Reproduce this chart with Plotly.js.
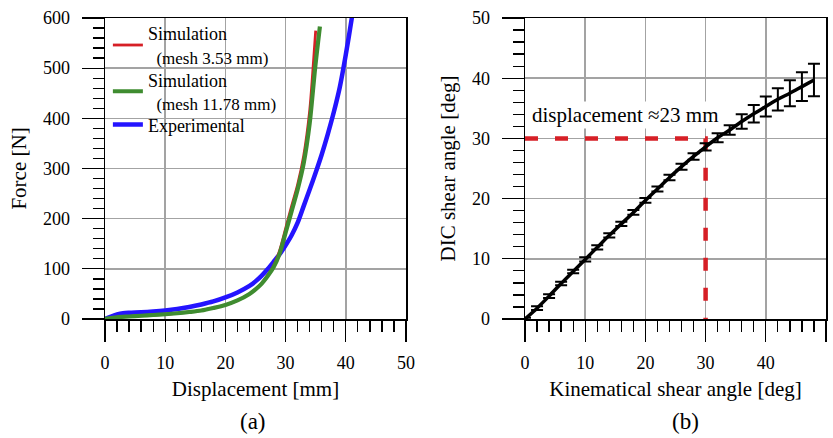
<!DOCTYPE html>
<html>
<head>
<meta charset="utf-8">
<script src="https://cdn.plot.ly/plotly-3.0.1.min.js"></script>
<style>html,body{margin:0;padding:0;background:#fff;}#chart{width:833px;height:438px;}</style>
</head>
<body>
<div id="chart"></div>
<script>
// ---- Panel (a): Force vs displacement ----
const simFineDisp   = [0, 2, 4, 6, 8, 10, 12, 14, 16, 18, 20, 22, 24, 25, 26, 27, 28, 29, 30, 31, 32, 33, 34, 34.5, 35.0];
const simFineForce  = [0, 3.5, 5, 6.5, 8, 9.5, 11.5, 14, 17, 22, 28, 37, 50, 59, 71, 87, 106, 136, 180, 225, 268, 325, 415, 490, 575];
const simCoarseDisp  = [0, 2, 4, 6, 8, 10, 12, 14, 16, 18, 20, 22, 24, 25, 26, 27, 28, 29, 30, 31, 32, 33, 34, 34.9, 35.7];
const simCoarseForce = [0, 3.5, 5, 6.5, 8, 9.5, 11.5, 14, 17, 22, 28, 37, 50, 59, 70, 85, 103, 130, 172, 215, 258, 310, 390, 500, 583];
const expDisp  = [0, 1, 2, 3, 4, 6, 8, 10, 12, 14, 16, 18, 20, 22, 24, 25, 26, 27, 28, 29, 30, 31, 32, 33, 34, 35, 36, 37, 38, 39, 40, 41, 41.3];
const expForce = [0, 5, 9, 11.5, 12.5, 13.5, 15, 17, 20, 24, 29, 35, 43, 53, 66, 75, 86, 99, 114, 129, 147, 167, 192, 225, 258, 292, 328, 368, 412, 462, 527, 600, 625];
const legendNames = ['Simulation<br><span style="font-size:17px">  (mesh 3.53 mm)</span>',
                     'Simulation<br><span style="font-size:17px">  (mesh 11.78 mm)</span>',
                     'Experimental'];

// ---- Panel (b): DIC vs kinematical shear angle ----
const kinAngle = [0, 2, 4, 6, 8, 10, 12, 14, 16, 18, 20, 22, 24, 26, 28, 30, 32, 34, 36, 38, 40, 42, 44, 46, 48];
const dicAngle = [0, 1.8, 3.8, 5.9, 7.9, 9.9, 11.9, 13.9, 15.8, 17.7, 19.7, 21.6, 23.5, 25.3, 27.0, 28.6, 30.1, 31.4, 32.8, 34.1, 35.3, 36.5, 37.5, 38.6, 39.7];
const dicErr   = [0.2, 0.3, 0.3, 0.3, 0.3, 0.35, 0.35, 0.35, 0.35, 0.4, 0.4, 0.4, 0.45, 0.5, 0.55, 0.6, 0.75, 0.8, 1.2, 1.45, 1.65, 1.85, 2.15, 2.4, 2.7];
const refKin = [0, 30, 30];
const refDic = [30, 30, 0];
const refLabel = 'displacement ≈23 mm';

const FONT = 'Liberation Serif, Times New Roman, serif';

const traces = [
  {x: expDisp, y: expForce, xaxis: 'x', yaxis: 'y', mode: 'lines', name: legendNames[2], legend: 'legend3',
   line: {color: '#2414ff', width: 4.5, shape: 'spline', smoothing: 0.8}},
  {x: simFineDisp, y: simFineForce, xaxis: 'x', yaxis: 'y', mode: 'lines', name: legendNames[0], legend: 'legend',
   line: {color: '#d61f26', width: 2.8, shape: 'spline', smoothing: 0.8}},
  {x: simCoarseDisp, y: simCoarseForce, xaxis: 'x', yaxis: 'y', mode: 'lines', name: legendNames[1], legend: 'legend2',
   line: {color: '#3f8c30', width: 4.2, shape: 'spline', smoothing: 0.8}},
  {x: refKin, y: refDic, xaxis: 'x2', yaxis: 'y2', mode: 'lines', showlegend: false, cliponaxis: false,
   line: {color: '#d61f26', width: 4.5, dash: '13px,17px'}},
  {x: kinAngle, y: dicAngle, xaxis: 'x2', yaxis: 'y2', mode: 'lines', showlegend: false,
   line: {color: '#000', width: 3.5, shape: 'spline', smoothing: 0.6},
   error_y: {type: 'data', array: dicErr, visible: true, color: '#000', thickness: 2, width: 6}}
];

function xax(domain, title) {
  return {
    domain: domain, range: [0, 50], dtick: 10, tick0: 0,
    ticks: 'outside', ticklen: 21, tickwidth: 1.3, tickcolor: '#000',
    minor: {dtick: 2, ticks: 'outside', ticklen: 11, tickwidth: 1.3, tickcolor: '#000', showgrid: false},
    showline: true, linecolor: '#000', linewidth: 1.5, mirror: true,
    showgrid: true, gridcolor: '#a3a3a3', gridwidth: 1.6, zeroline: false,
    tickfont: {family: FONT, size: 18, color: '#000'}, ticklabelstandoff: 6,
    title: {text: title, font: {family: FONT, size: 21, color: '#000'}, standoff: 9}
  };
}
function yax(anchor, range, dtick, minorDtick, title) {
  return {
    anchor: anchor, domain: [0, 1], range: range, dtick: dtick, tick0: 0,
    ticks: 'outside', ticklen: 22, tickwidth: 1.3, tickcolor: '#000',
    minor: {dtick: minorDtick, ticks: 'outside', ticklen: 11, tickwidth: 1.3, tickcolor: '#000', showgrid: false},
    showline: true, linecolor: '#000', linewidth: 1.5, mirror: true,
    showgrid: true, gridcolor: '#a3a3a3', gridwidth: 1.6, zeroline: false,
    tickfont: {family: FONT, size: 18, color: '#000'}, ticklabelstandoff: 8,
    title: {text: title, font: {family: FONT, size: 21, color: '#000'}, standoff: 10}
  };
}

function leg(yTop) {
  return {x: 0.004, y: yTop, xref: 'paper', yref: 'paper', xanchor: 'left', yanchor: 'top',
          bgcolor: 'rgba(0,0,0,0)', borderwidth: 0, font: {family: FONT, size: 18, color: '#000'},
          tracegroupgap: 0, itemwidth: 30};
}

const layout = {
  width: 833, height: 438,
  margin: {l: 105, r: 7, t: 18, b: 119},
  paper_bgcolor: '#fff', plot_bgcolor: '#fff',
  font: {family: FONT, color: '#000'},
  xaxis: Object.assign(xax([0, 301/721], 'Displacement [mm]'), {anchor: 'y'}),
  yaxis: yax('x', [0, 600], 100, 20, 'Force [N]'),
  xaxis2: Object.assign(xax([420/721, 1], 'Kinematical shear angle [deg]'), {anchor: 'y2'}),
  yaxis2: yax('x2', [0, 50], 10, 2, 'DIC shear angle [deg]'),
  showlegend: true,
  legend: leg(1.0096),
  legend2: leg(0.856),
  legend3: leg(0.7066),
  shapes: [
    // white backing of the legend block (hides gridlines behind it)
    {type: 'rect', xref: 'paper', yref: 'paper', x0: 0.004, x1: 0.2400, y0: 0.66, y1: 0.990,
     layer: 'between', fillcolor: '#fff', line: {width: 0}},
    {type: 'rect', xref: 'paper', yref: 'paper', x0: 0.004, x1: 0.2005, y0: 0.595, y1: 0.70,
     layer: 'between', fillcolor: '#fff', line: {width: 0}}
  ],
  annotations: [
    {xref: 'x2', yref: 'y2', x: 16.7, y: 33.9, text: refLabel, showarrow: false, bgcolor: '#fff',
     font: {family: FONT, size: 21, color: '#000'}, xanchor: 'center', yanchor: 'middle'},
    {xref: 'paper', yref: 'paper', x: 148/721, y: -0.342, text: '(a)', showarrow: false,
     font: {family: FONT, size: 23, color: '#000'}, xanchor: 'center', yanchor: 'middle'},
    {xref: 'paper', yref: 'paper', x: 580/721, y: -0.342, text: '(b)', showarrow: false,
     font: {family: FONT, size: 23, color: '#000'}, xanchor: 'center', yanchor: 'middle'}
  ]
};

Plotly.newPlot('chart', traces, layout, {displayModeBar: false, staticPlot: true});
</script>
</body>
</html>
